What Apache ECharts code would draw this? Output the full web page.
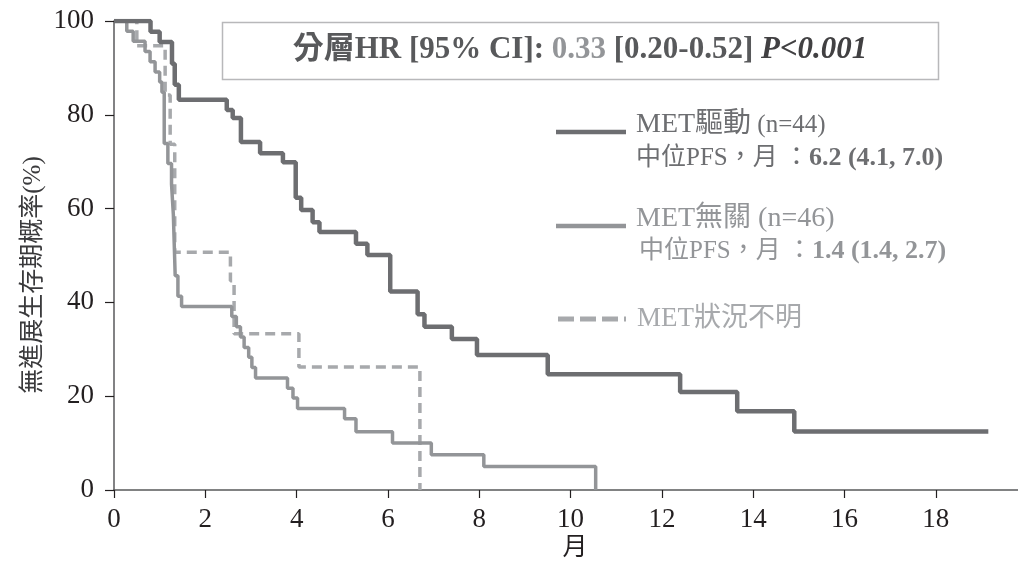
<!DOCTYPE html>
<html><head><meta charset="utf-8">
<script src="https://cdn.jsdelivr.net/npm/echarts@6/dist/echarts.min.js"></script>
<style>html,body{margin:0;padding:0;background:#fff}#c{width:1018px;height:564px}</style>
</head><body><div id="c"></div>
<script>
const xTicks = [0,2,4,6,8,10,12,14,16,18];
const yTicks = [0,20,40,60,80,100];
// MET驅動 (n=44)
const drivenT = [0,0.8,1.0,1.27,1.33,1.42,2.47,2.6,2.78,3.2,3.7,3.98,4.1,4.35,4.5,5.3,5.55,6.05,6.65,6.8,7.4,7.95,9.5,12.4,13.65,14.9,19.15];
const drivenS = [100,97.7,95.5,90.9,86.4,83.2,81,79.3,74.2,71.8,69.9,62.3,59.7,57.1,55,52.5,50.1,42.3,37.5,34.8,32.2,28.8,24.7,20.9,16.8,12.5,12.5];
// MET無關 (n=46)
const unrelT = [0,0.28,0.42,0.68,0.79,0.9,1.0,1.05,1.1,1.18,1.26,1.3,1.34,1.4,1.48,2.58,2.68,2.77,2.85,2.95,3.02,3.1,3.8,3.92,4.02,5.05,5.3,6.1,6.95,8.1,10.55];
const unrelS = [100,97.8,95.7,93.5,91.3,89.1,87,84.8,73.9,69.6,65.2,58.7,45.7,41.3,39.1,37,34.8,32.6,30.4,28.3,26.1,23.9,21.7,19.6,17.4,15.2,12.4,10,7.5,5,0];
// MET狀況不明
const unknT = [0,0.5,1.12,1.23,1.33,2.55,2.63,4.05,6.7];
const unknS = [100,94.7,84.2,73.7,50.7,44.6,33.3,26.2,0];

const zip = (t,s) => t.map((v,i)=>[v,s[i]]);
const SERIF = "'Liberation Serif','Noto Sans CJK TC',serif";
const C1 = '#6d6e71', C2 = '#939598', C3 = '#a7a9ac';

const chart = echarts.init(document.getElementById('c'), null, {renderer:'canvas'});
chart.setOption({
  animation:false,
  backgroundColor:'#fff',
  grid:{left:114, right:0, top:21, bottom:74, containLabel:false, outerBoundsMode:'none'},
  xAxis:{
    type:'value', min:0, max:19.8, interval:2,
    axisLine:{lineStyle:{color:'#58595b', width:1.5}},
    axisTick:{show:true, length:8, customValues:xTicks, lineStyle:{color:'#231f20', width:1.2}},
    axisLabel:{customValues:xTicks, margin:16, fontFamily:SERIF, fontSize:27, color:'#231f20'},
    splitLine:{show:false}
  },
  yAxis:{
    type:'value', min:0, max:100, interval:20,
    axisLine:{show:true, lineStyle:{color:'#58595b', width:1.5}},
    axisTick:{show:true, length:9, customValues:yTicks, lineStyle:{color:'#231f20', width:1.2}},
    axisLabel:{customValues:yTicks, margin:20, fontFamily:SERIF, fontSize:27, color:'#231f20'},
    splitLine:{show:false}
  },
  series:[
    {name:'MET狀況不明', type:'line', step:'end', symbol:'none', data:zip(unknT,unknS),
     lineStyle:{color:C3, width:3.5, type:[10,6]}, z:2},
    {name:'MET無關', type:'line', step:'end', symbol:'none', data:zip(unrelT,unrelS),
     lineStyle:{color:C2, width:3.5}, z:3},
    {name:'MET驅動', type:'line', step:'end', symbol:'none', data:zip(drivenT,drivenS),
     lineStyle:{color:C1, width:4.5}, z:4}
  ],
  graphic:[
    {type:'text', x:33, y:275, rotation:Math.PI/2, style:{text:'無進展生存期概率(%)', align:'center', verticalAlign:'middle', fontFamily:SERIF, fontSize:25, fill:'#3a3a3c'}},
    {type:'text', x:575, y:548, style:{text:'月', align:'center', verticalAlign:'middle', fontFamily:SERIF, fontSize:25, fill:'#231f20'}},
    {type:'rect', shape:{x:222.5,y:22.5,width:716,height:57}, style:{fill:'#fff', stroke:'#b8b8ba', lineWidth:1.5}},
    {type:'text', x:580, y:50, style:{
      text:'{a|分層HR [95% CI]: }{b|0.33}{a| [0.20-0.52] }{c|P<0.001}',
      align:'center', verticalAlign:'middle',
      rich:{
        a:{fontFamily:SERIF, fontWeight:'bold', fontSize:31, fill:'#58595b'},
        b:{fontFamily:SERIF, fontWeight:'bold', fontSize:31, fill:'#939598'},
        c:{fontFamily:SERIF, fontWeight:'bold', fontStyle:'italic', fontSize:31, fill:'#414042'}
      }}},
    {type:'line', shape:{x1:556,y1:132,x2:626,y2:132}, style:{stroke:C1, lineWidth:4.5}},
    {type:'text', x:636, y:125, style:{text:'{a|MET驅動}{s| (n=44)}', verticalAlign:'middle',
      rich:{a:{fontFamily:SERIF, fontSize:28, fill:C1}, s:{fontFamily:SERIF, fontSize:25, fill:C1}}}},
    {type:'text', x:636, y:158, style:{text:'{a|中位PFS，月 ：}{b|6.2 (4.1, 7.0)}', verticalAlign:'middle',
      rich:{a:{fontFamily:SERIF, fontSize:25, fill:C1}, b:{fontFamily:SERIF, fontSize:26, fontWeight:'bold', fill:C1}}}},
    {type:'line', shape:{x1:556,y1:226,x2:626,y2:226}, style:{stroke:C2, lineWidth:4.5}},
    {type:'text', x:636, y:219, style:{text:'{a|MET無關 (n=46)}', verticalAlign:'middle',
      rich:{a:{fontFamily:SERIF, fontSize:28, fill:C2}}}},
    {type:'text', x:639, y:251, style:{text:'{a|中位PFS，月 ：}{b|1.4 (1.4, 2.7)}', verticalAlign:'middle',
      rich:{a:{fontFamily:SERIF, fontSize:25, fill:C2}, b:{fontFamily:SERIF, fontSize:26, fontWeight:'bold', fill:C2}}}},
    {type:'line', shape:{x1:558,y1:319,x2:626,y2:319}, style:{stroke:C3, lineWidth:5, lineDash:[16,6]}},
    {type:'text', x:637, y:319, style:{text:'MET狀況不明', verticalAlign:'middle', fontFamily:SERIF, fontSize:27, fill:C3}}
  ]
});
</script></body></html>
